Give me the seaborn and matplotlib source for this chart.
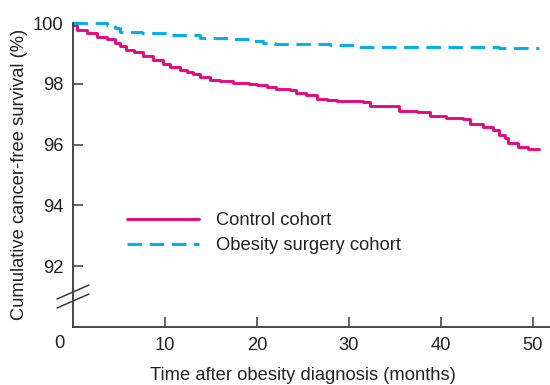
import numpy as np
import pandas as pd
import matplotlib
matplotlib.use("Agg")
import matplotlib.pyplot as plt
import matplotlib.transforms as mtransforms
import seaborn as sns

# Kaplan-Meier style step curves (months, % cancer-free)
control_t = [0, 0.4, 1.5, 2.6, 3.7, 4.6, 5.1, 5.8, 6.6, 7.6, 8.7, 9.8, 10.5, 11.6,
             12.4, 13.1, 13.8, 14.9, 16.0, 17.4, 19.2, 20.0, 21.1, 22.1, 23.6, 24.3,
             25.4, 26.5, 27.6, 28.7, 31.6, 32.3, 35.2, 35.5, 37.4, 38.8, 40.6, 42.4,
             43.2, 44.6, 45.7, 46.4, 47.0, 47.3, 48.4, 49.5, 50.7]
control_s = [99.93, 99.77, 99.66, 99.55, 99.47, 99.33, 99.25, 99.11, 99.03, 98.90,
             98.79, 98.66, 98.55, 98.46, 98.40, 98.33, 98.24, 98.13, 98.09, 98.02,
             98.00, 97.96, 97.89, 97.83, 97.80, 97.69, 97.63, 97.51, 97.48, 97.42,
             97.41, 97.28, 97.26, 97.12, 97.06, 96.93, 96.89, 96.84, 96.67, 96.58,
             96.47, 96.33, 96.22, 96.06, 95.92, 95.85, 95.85]

surgery_t = [0, 3.7, 4.6, 5.1, 7.5, 10.0, 13.8, 17.4, 19.2, 20.7, 22.0, 28.0,
             30.8, 39.1, 46.4, 50.7]
surgery_s = [100.0, 99.93, 99.83, 99.69, 99.68, 99.62, 99.52, 99.47, 99.40, 99.35,
             99.31, 99.29, 99.22, 99.20, 99.17, 99.17]

series_labels = ["Control cohort", "Obesity surgery cohort"]
x_ticks = [10, 20, 30, 40, 50]
y_ticks = [92, 94, 96, 98, 100]

MAGENTA = "#E5097F"
CYAN = "#00AEEF"
AXIS = "#3a3a3a"
TEXT = "#222222"
FS = 13.2

sns.set_theme(style="ticks")
plt.rcParams["font.family"] = ["Liberation Sans", "DejaVu Sans"]

fig = plt.figure(figsize=(5.5, 3.85), dpi=100)
ax = fig.add_axes([73 / 550, 58 / 385, 1 - 73 / 550, (327 - 23) / 385])

ctrl = pd.DataFrame({"t": control_t, "s": control_s})
surg = pd.DataFrame({"t": surgery_t, "s": surgery_s})

sns.lineplot(data=ctrl, x="t", y="s", ax=ax, color=MAGENTA, lw=2.1,
             drawstyle="steps-post", label=series_labels[0], clip_on=False)
sns.lineplot(data=surg, x="t", y="s", ax=ax, color=CYAN, lw=2.1,
             drawstyle="steps-post", label=series_labels[1], clip_on=False,
             dashes=False, linestyle=(0, (5, 2.6)))

ax.set_xlim(0, 51.9)
ax.set_ylim(90, 100)
ax.set_xticks(x_ticks)
ax.set_yticks(y_ticks)
ax.tick_params(axis="both", direction="in", length=7.5, width=1.1, colors=AXIS,
               labelcolor=TEXT, labelsize=FS, pad=7)

for side in ("top", "right"):
    ax.spines[side].set_visible(False)
for side in ("left", "bottom"):
    ax.spines[side].set_color(AXIS)
    ax.spines[side].set_linewidth(1.3)

# origin label sits just left of the y axis
origin_tf = mtransforms.offset_copy(ax.transAxes, fig=fig, x=-14, y=-16, units="dots")
ax.text(0, 0, "0", transform=origin_tf, ha="center", va="center",
        fontsize=FS, color=TEXT)

# axis-break marks on the y axis (pixel offsets around the break point)
break_tf = mtransforms.Affine2D().translate(73, 385 - 292)
for dy in (0.0, 9.0):
    ax.plot([-16, 16], [-7 - dy, 7 - dy], color=AXIS, lw=1.1,
            clip_on=False, transform=break_tf)

ax.set_xlabel("Time after obesity diagnosis (months)", fontsize=FS, color=TEXT)
ax.set_ylabel("Cumulative cancer-free survival (%)", fontsize=FS, color=TEXT)
ax.xaxis.set_label_coords(0.482, -0.13)
ax.yaxis.set_label_coords(-0.094, 0.503)

leg = ax.legend(loc="upper left", bbox_to_anchor=(127 / 550, 1 - 212 / 385),
                bbox_transform=fig.transFigure, frameon=False, fontsize=FS,
                handlelength=3.9, handletextpad=0.95, labelspacing=0.45,
                borderpad=0, borderaxespad=0)
for txt in leg.get_texts():
    txt.set_color(TEXT)

fig.savefig("out.png", dpi=100)
